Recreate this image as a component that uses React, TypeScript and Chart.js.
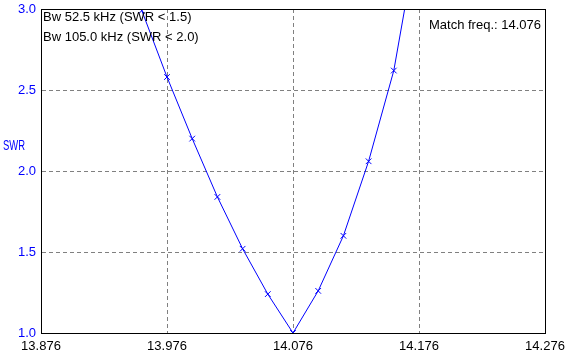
import React, { useEffect, useRef } from 'react';
import { Chart, registerables } from 'chart.js';

Chart.register(...registerables);

const freqs = [13.936, 13.956, 13.976, 13.996, 14.016, 14.036, 14.056, 14.076, 14.096, 14.116, 14.136, 14.156, 14.176];
const swr = [3.45, 2.99, 2.58, 2.2, 1.84, 1.52, 1.24, 1.0, 1.26, 1.6, 2.06, 2.62, 3.5];
const xTickValues = [13.876, 13.976, 14.076, 14.176, 14.276];
const yTickValues = [1.0, 1.5, 2.0, 2.5, 3.0];
const bandwidthNotes = ['Bw 52.5 kHz (SWR < 1.5)', 'Bw 105.0 kHz (SWR < 2.0)'];
const matchNote = 'Match freq.: 14.076';
const yAxisTitle = 'SWR';

const FONT = '"Liberation Sans", Arial, sans-serif';
const BLUE = '#0000ff';
const GRID = '#808080';

export default function App() {
  const canvasRef = useRef<HTMLCanvasElement | null>(null);

  useEffect(() => {
    const canvas = canvasRef.current;
    if (!canvas) return;

    const annotate = {
      id: 'annotate',
      afterDraw(chart: any) {
        const { ctx, chartArea } = chart;
        ctx.save();
        ctx.strokeStyle = '#000';
        ctx.lineWidth = 1;
        ctx.strokeRect(
          Math.round(chartArea.left) + 0.5,
          Math.round(chartArea.top) + 0.5,
          Math.round(chartArea.right - chartArea.left),
          Math.round(chartArea.bottom - chartArea.top)
        );
        ctx.font = `13px ${FONT}`;
        ctx.fillStyle = '#000';
        ctx.textBaseline = 'alphabetic';
        ctx.textAlign = 'left';
        bandwidthNotes.forEach((t, i) => {
          ctx.fillText(t, chartArea.left + 2, chartArea.top + 12 + i * 20);
        });
        ctx.textAlign = 'right';
        ctx.fillText(matchNote, chartArea.right - 4, chartArea.top + 20);
        ctx.fillStyle = BLUE;
        ctx.textAlign = 'left';
        ctx.textBaseline = 'middle';
        ctx.font = `14px ${FONT}`;
        const w = ctx.measureText(yAxisTitle).width;
        ctx.translate(3, 146);
        ctx.scale(22 / w, 1);
        ctx.fillText(yAxisTitle, 0, 0);
        ctx.restore();
      },
    };

    const gridColor = (c: any) => {
      const n = c.scale.ticks.length;
      return c.index === 0 || c.index === n - 1 ? 'rgba(0,0,0,0)' : GRID;
    };

    const chart = new Chart(canvas, {
      type: 'line',
      data: {
        datasets: [
          {
            data: freqs.map((f, i) => ({ x: f, y: swr[i] })),
            borderColor: BLUE,
            borderWidth: 1,
            pointStyle: 'crossRot',
            pointRadius: 4,
            pointBorderColor: BLUE,
            pointBorderWidth: 1,
            pointBackgroundColor: BLUE,
            tension: 0,
            fill: false,
          },
        ],
      },
      options: {
        animation: false,
        responsive: false,
        devicePixelRatio: 1,
        events: [],
        layout: { padding: { top: 9, right: 22, left: 0, bottom: 0 } },
        plugins: { legend: { display: false }, tooltip: { enabled: false } },
        scales: {
          x: {
            type: 'linear',
            min: 13.876,
            max: 14.276,
            afterBuildTicks: (s: any) => {
              s.ticks = xTickValues.map((v) => ({ value: v }));
            },
            afterFit: (s: any) => {
              s.height = 25;
              s.paddingLeft = 0;
              s.paddingRight = 0;
            },
            grid: { color: gridColor, drawTicks: false, lineWidth: 1 },
            border: { display: true, color: '#000', dash: [4, 3] },
            ticks: {
              color: '#000',
              font: { family: FONT, size: 13 },
              padding: 6,
              maxRotation: 0,
              autoSkip: false,
              callback: (v: any) => Number(v).toFixed(3),
            },
          },
          y: {
            type: 'linear',
            min: 1,
            max: 3,
            afterBuildTicks: (s: any) => {
              s.ticks = yTickValues.map((v) => ({ value: v }));
            },
            afterFit: (s: any) => {
              s.width = 41;
              s.paddingTop = 0;
              s.paddingBottom = 0;
            },
            grid: { color: gridColor, drawTicks: false, lineWidth: 1 },
            border: { display: true, color: '#000', dash: [4, 3] },
            ticks: {
              color: BLUE,
              font: { family: FONT, size: 13 },
              padding: 5,
              autoSkip: false,
              callback: (v: any) => Number(v).toFixed(1),
            },
          },
        },
      },
      plugins: [annotate],
    } as any);

    return () => chart.destroy();
  }, []);

  return (
    <div style={{ position: 'fixed', left: 0, top: 0, width: 567, height: 358, background: '#fff' }}>
      <canvas ref={canvasRef} width={567} height={358} style={{ display: 'block' }} />
    </div>
  );
}
